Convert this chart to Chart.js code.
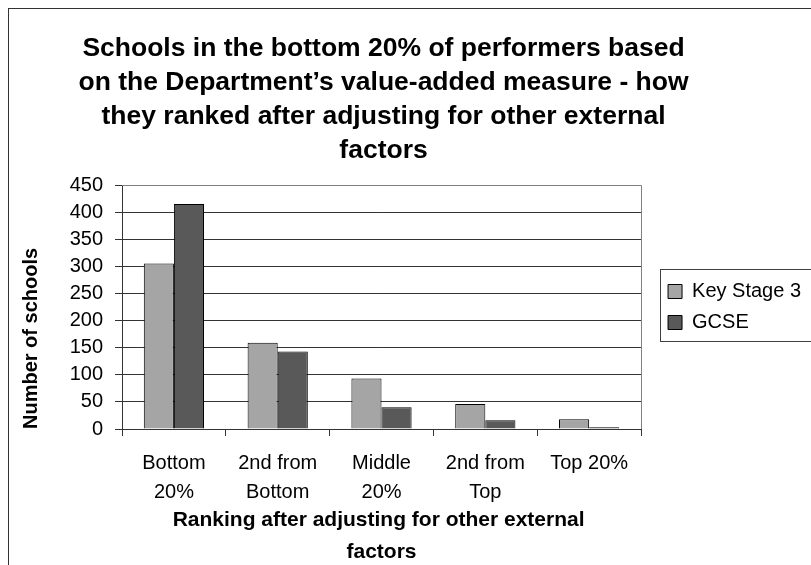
<!DOCTYPE html>
<html>
<head>
<meta charset="utf-8">
<script src="https://cdn.jsdelivr.net/npm/chart.js@4.4.1/dist/chart.umd.min.js"></script>
<style>
  html, body { margin: 0; padding: 0; background: #fff; overflow: hidden; }
  #frame { position: absolute; left: 8px; top: 8px; width: 1000px; height: 1000px; border: 1px solid #333; }
  #grafico { position: absolute; left: 0; top: 0; }
</style>
</head>
<body>
<div id="frame"></div>
<canvas id="grafico" width="811" height="565"></canvas>
<script>
const titulo = [
  "Schools in the bottom 20% of performers based",
  "on the Department\u2019s value-added measure - how",
  "they ranked after adjusting for other external",
  "factors"
];
const categorias = [["Bottom", "20%"], ["2nd from", "Bottom"], ["Middle", "20%"], ["2nd from", "Top"], ["Top 20%"]];
const keyStage3 = [305, 159, 93, 46, 18];
const gcse = [415, 143, 40, 16, 3];
const yMin = 0, yMax = 450, yStep = 50;
const tituloX = ["Ranking after adjusting for other external ", "factors"];
const tituloY = "Number of schools";

const fonte = "'Liberation Sans', Arial, sans-serif";
Chart.defaults.font.family = fonte;
Chart.defaults.color = "#000";

// borda cinza do plot (topo e direita) + moldura da legenda
const moldura = {
  id: "moldura",
  afterLayout(chart) {
    chart.legend.left += 16;
    chart.legend.right += 16;
    // titulo mais largo que a area do grafico, sem comprimir o texto
    const t = chart.titleBlock;
    const c = (t.left + t.right) / 2 + 2;
    t.left = c - 370;
    t.right = c + 370;
    t.width = 740;
  },
  beforeDatasetsDraw(chart) {
    const { ctx, chartArea: a } = chart;
    ctx.save();
    ctx.strokeStyle = "#808080";
    ctx.lineWidth = 1;
    ctx.beginPath();
    ctx.moveTo(Math.round(a.left), Math.round(a.top) + 0.5);
    ctx.lineTo(Math.round(a.right) + 0.5, Math.round(a.top) + 0.5);
    ctx.lineTo(Math.round(a.right) + 0.5, Math.round(a.bottom));
    ctx.stroke();
    ctx.restore();
  },
  afterDraw(chart) {
    const { ctx } = chart;
    const lg = chart.legend;
    const meio = (lg.top + lg.bottom) / 2;
    ctx.save();
    ctx.strokeStyle = "#404040";
    ctx.lineWidth = 1;
    ctx.strokeRect(Math.round(lg.left + 3) + 0.5, Math.round(meio - 38) + 0.5, 300, 72);
    ctx.restore();
  }
};

new Chart(document.getElementById("grafico"), {
  type: "bar",
  data: {
    labels: categorias,
    datasets: [
      { label: "Key Stage 3", data: keyStage3, backgroundColor: "#a5a5a5", borderColor: "#000", borderWidth: 1 },
      { label: "GCSE", data: gcse, backgroundColor: "#595959", borderColor: "#000", borderWidth: 1 }
    ]
  },
  options: {
    responsive: false,
    animation: false,
    layout: { padding: { right: 16 } },
    datasets: { bar: { categoryPercentage: 0.58, barPercentage: 1 } },
    plugins: {
      title: {
        display: true,
        text: titulo,
        fullSize: false,
        color: "#000",
        font: { size: 26.5, weight: "bold", lineHeight: 34 / 26.5 },
        padding: { top: 32, bottom: 17 }
      },
      legend: {
        position: "right",
        fullSize: false,
        labels: { color: "#000", font: { size: 20 }, boxWidth: 14, boxHeight: 14, padding: 11 }
      },
      tooltip: { enabled: false }
    },
    scales: {
      x: {
        grid: { offset: true, drawOnChartArea: false, tickLength: 7, color: "#333" },
        border: { color: "#333" },
        ticks: { color: "#000", font: { size: 20, lineHeight: 1.45 }, padding: 12.5, maxRotation: 0, autoSkip: false },
        title: {
          display: true,
          text: tituloX,
          color: "#000",
          font: { size: 21, weight: "bold", lineHeight: 32 / 21 },
          padding: { top: 0, bottom: -3 }
        },
        afterFit(s) { s.height = 136; }
      },
      y: {
        min: yMin,
        max: yMax,
        ticks: { stepSize: yStep, color: "#000", font: { size: 20 }, padding: 12 },
        grid: { color: "#333", tickColor: "#333", tickLength: 7 },
        border: { color: "#333" },
        title: {
          display: true,
          text: tituloY,
          align: "start",
          color: "#000",
          font: { size: 20, weight: "bold" },
          padding: { top: 19, bottom: 0 }
        },
        afterFit(s) { s.width = 122; }
      }
    }
  },
  plugins: [moldura]
});
</script>
</body>
</html>
